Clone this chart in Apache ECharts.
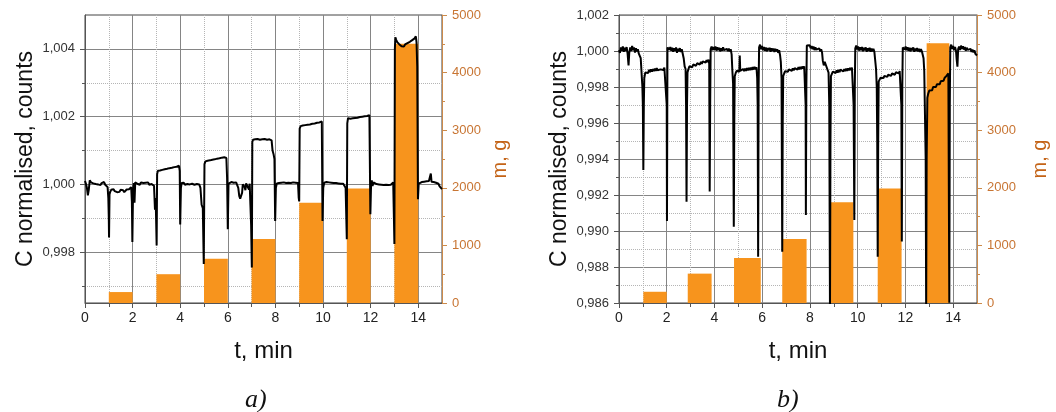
<!DOCTYPE html>
<html><head><meta charset="utf-8">
<script src="https://cdn.jsdelivr.net/npm/echarts@6/dist/echarts.min.js"></script>
<style>html,body{margin:0;padding:0;background:#fff}#c{width:1056px;height:412px}</style>
</head><body><div id="c"></div>
<script>
// ---------- data ----------
const xMajor = [0, 2, 4, 6, 8, 10, 12, 14];
const xMinor = [1, 3, 5, 7, 9, 11, 13];
const yMajorA = [0.998, 1.000, 1.002, 1.004];
const yMinorA = [0.997, 0.999, 1.001, 1.003];
const yMajorB = [0.986, 0.988, 0.990, 0.992, 0.994, 0.996, 0.998, 1.000, 1.002];
const yMinorB = [0.987, 0.989, 0.991, 0.993, 0.995, 0.997, 0.999, 1.001];

// bars: [t start, t end, mass g]
const barsA = [[1,2,190],[3,4,500],[5,6,770],[7,8,1110],[9,10,1740],[11,12,1990],[13,14,4500]];
const barsB = [[1.02,2.0,195],[2.88,3.88,510],[4.82,5.94,780],[6.84,7.86,1110],[8.88,9.82,1750],[10.84,11.84,1990],[12.89,13.84,4510]];

// normalised counts: [t min, C]
const lineA = [[0.00,1.00010],[0.04,1.00002],[0.08,0.99990],[0.12,0.99968],[0.16,0.99985],[0.20,1.00012],[0.25,1.00006],[0.30,1.00010],[0.35,1.00003],[0.40,1.00008],[0.45,1.00001],[0.50,1.00006],[0.55,1.00000],[0.60,1.00005],[0.65,0.99998],[0.70,1.00004],[0.75,1.00001],[0.80,1.00007],[0.85,0.99999],[0.90,1.00003],[0.95,0.99992],[0.98,0.99960],[1.00,0.99900],[1.01,0.99843],[1.03,0.99970],[1.06,0.99978],
[1.10,0.99984],[1.15,0.99979],[1.20,0.99986],[1.25,0.99980],[1.30,0.99983],[1.35,0.99977],[1.40,0.99982],[1.45,0.99978],[1.50,0.99984],[1.55,0.99979],[1.60,0.99983],[1.65,0.99977],[1.70,0.99982],[1.75,0.99985],[1.80,0.99980],[1.85,0.99986],[1.90,0.99988],[1.94,0.99992],[1.97,0.99950],[1.99,0.99830],[2.02,0.99985],[2.05,1.00004],[2.08,0.99946],[2.11,1.00006],
[2.15,1.00008],[2.20,1.00002],[2.25,1.00005],[2.30,0.99999],[2.35,1.00006],[2.40,1.00001],[2.45,1.00004],[2.50,1.00000],[2.55,1.00005],[2.60,1.00002],[2.65,1.00006],[2.70,0.99999],[2.75,1.00004],[2.80,1.00001],[2.85,1.00004],[2.90,0.99996],[2.94,0.99925],[2.97,0.99960],[3.01,0.99820],[3.03,1.00030],
[3.06,1.00040],[3.10,1.00044],[3.15,1.00041],[3.20,1.00046],[3.25,1.00043],[3.30,1.00047],[3.35,1.00045],[3.40,1.00049],[3.45,1.00046],[3.50,1.00050],[3.55,1.00048],[3.60,1.00052],[3.65,1.00049],[3.70,1.00053],[3.75,1.00051],[3.80,1.00055],[3.85,1.00052],[3.90,1.00057],[3.95,1.00055],[3.98,1.00040],[4.00,0.99882],[4.03,0.99990],[4.06,1.00004],
[4.10,1.00001],[4.15,1.00005],[4.20,0.99999],[4.25,1.00004],[4.30,1.00001],[4.35,1.00006],[4.40,1.00000],[4.45,1.00004],[4.50,1.00002],[4.55,1.00005],[4.60,0.99999],[4.65,1.00003],[4.70,1.00001],[4.75,1.00004],[4.80,1.00000],[4.85,0.99990],[4.90,0.99940],[4.95,0.99930],[4.99,0.99765],[5.02,1.00060],
[5.06,1.00068],[5.10,1.00072],[5.15,1.00070],[5.20,1.00074],[5.25,1.00071],[5.30,1.00076],[5.35,1.00073],[5.40,1.00077],[5.45,1.00074],[5.50,1.00078],[5.55,1.00076],[5.60,1.00080],[5.65,1.00077],[5.70,1.00082],[5.75,1.00079],[5.80,1.00083],[5.85,1.00080],[5.90,1.00084],[5.94,1.00078],[5.97,1.00020],[6.00,0.99868],[6.03,1.00002],
[6.06,1.00006],[6.10,1.00003],[6.15,1.00007],[6.20,1.00002],[6.25,1.00005],[6.30,1.00001],[6.35,1.00006],[6.40,1.00003],[6.44,0.99990],[6.48,0.99966],[6.52,0.99958],[6.56,0.99962],[6.60,0.99975],[6.63,1.00000],[6.67,1.00005],[6.71,0.99992],[6.74,0.99983],[6.77,1.00003],[6.81,1.00005],[6.85,1.00002],[6.89,0.99985],[6.92,1.00002],[6.95,0.99940],[6.98,0.99880],[7.01,0.99755],[7.03,1.00125],
[7.06,1.00132],[7.10,1.00136],[7.15,1.00133],[7.20,1.00137],[7.25,1.00134],[7.30,1.00136],[7.35,1.00132],[7.40,1.00135],[7.45,1.00133],[7.50,1.00137],[7.55,1.00134],[7.60,1.00136],[7.65,1.00132],[7.70,1.00135],[7.75,1.00133],[7.80,1.00134],[7.84,1.00130],[7.88,1.00100],[7.92,1.00090],[7.96,1.00075],[7.99,0.99892],[8.02,0.99990],
[8.06,1.00003],[8.10,0.99999],[8.15,1.00004],[8.20,1.00001],[8.25,1.00005],[8.30,1.00002],[8.35,1.00006],[8.40,1.00001],[8.45,1.00004],[8.50,1.00002],[8.55,1.00005],[8.60,1.00001],[8.65,1.00004],[8.70,1.00002],[8.75,1.00006],[8.80,1.00003],[8.85,1.00005],[8.90,1.00002],[8.95,1.00004],[8.98,0.99960],[9.00,0.99950],[9.02,1.00165],
[9.06,1.00172],[9.10,1.00176],[9.15,1.00174],[9.20,1.00177],[9.25,1.00175],[9.30,1.00178],[9.35,1.00176],[9.40,1.00180],[9.45,1.00177],[9.50,1.00181],[9.55,1.00179],[9.60,1.00182],[9.65,1.00180],[9.70,1.00184],[9.75,1.00182],[9.80,1.00185],[9.85,1.00183],[9.90,1.00187],[9.95,1.00186],[9.98,0.99892],[10.01,0.99990],
[10.05,1.00005],[10.10,1.00002],[10.15,1.00007],[10.20,1.00003],[10.25,1.00006],[10.30,1.00001],[10.35,1.00005],[10.40,1.00002],[10.45,1.00004],[10.50,1.00000],[10.55,1.00004],[10.60,1.00001],[10.65,1.00003],[10.70,0.99999],[10.75,1.00002],[10.80,0.99998],[10.85,1.00002],[10.90,0.99999],[10.95,0.99990],[11.00,0.99838],[11.02,1.00180],
[11.05,1.00195],[11.10,1.00198],[11.15,1.00194],[11.20,1.00197],[11.25,1.00195],[11.30,1.00199],[11.35,1.00196],[11.40,1.00200],[11.45,1.00197],[11.50,1.00201],[11.55,1.00199],[11.60,1.00202],[11.65,1.00200],[11.70,1.00203],[11.75,1.00201],[11.80,1.00204],[11.85,1.00202],[11.90,1.00205],[11.95,1.00204],[11.99,0.99912],[12.02,1.00000],
[12.05,1.00012],[12.08,0.99995],[12.12,1.00006],[12.16,1.00002],[12.20,1.00005],[12.25,1.00001],[12.30,1.00004],[12.35,1.00000],[12.40,1.00003],[12.45,0.99999],[12.50,1.00002],[12.55,0.99998],[12.60,1.00001],[12.65,0.99999],[12.70,1.00002],[12.75,0.99998],[12.80,1.00001],[12.85,0.99999],[12.90,1.00004],[12.95,1.00006],[12.98,0.99900],[13.00,0.99824],[13.02,1.00400],
[13.04,1.00434],[13.08,1.00426],[13.12,1.00420],[13.16,1.00418],[13.20,1.00414],[13.25,1.00412],[13.30,1.00408],[13.35,1.00411],[13.40,1.00407],[13.45,1.00413],[13.50,1.00411],[13.55,1.00417],[13.60,1.00415],[13.65,1.00421],[13.70,1.00420],[13.75,1.00426],[13.80,1.00425],[13.85,1.00431],[13.90,1.00437],[13.93,1.00420],[13.96,1.00348],[13.99,0.99956],[14.02,1.00002],
[14.06,1.00006],[14.10,1.00003],[14.15,1.00007],[14.20,1.00004],[14.25,1.00008],[14.30,1.00005],[14.35,1.00009],[14.40,1.00006],[14.45,1.00010],[14.50,1.00008],[14.53,1.00032],[14.56,1.00008],[14.60,1.00005],[14.65,1.00007],[14.70,1.00003],[14.75,1.00005],[14.80,1.00000],[14.85,1.00002],[14.90,0.99994],[14.95,0.99990],[15.00,0.99986]];

const lineB = [[0.00,1.00005],[0.04,0.99990],[0.08,1.00020],[0.12,1.00002],[0.16,1.00025],[0.20,0.99995],[0.24,1.00018],[0.28,1.00000],[0.32,1.00022],[0.36,0.99985],[0.40,0.99920],[0.43,0.99990],[0.47,1.00020],[0.51,1.00000],[0.55,1.00028],[0.59,1.00004],[0.63,1.00020],[0.67,0.99992],[0.71,1.00015],[0.75,0.99998],[0.79,1.00010],[0.83,0.99985],[0.87,0.99990],[0.91,0.99960],[0.95,0.99950],[0.98,0.99800],[1.00,0.99700],[1.02,0.99339],[1.04,0.99700],[1.06,0.99850],
[1.10,0.99880],[1.14,0.99870],[1.18,0.99890],[1.22,0.99878],[1.26,0.99895],[1.30,0.99882],[1.34,0.99898],[1.38,0.99885],[1.42,0.99900],[1.46,0.99888],[1.50,0.99902],[1.54,0.99890],[1.58,0.99905],[1.62,0.99893],[1.66,0.99900],[1.70,0.99885],[1.74,0.99898],[1.78,0.99888],[1.82,0.99904],[1.86,0.99895],[1.90,0.99908],[1.94,0.99897],[1.97,0.99910],[2.00,0.99700],[2.01,0.99055],[2.03,1.00020],
[2.07,1.00030],[2.11,1.00008],[2.15,1.00022],[2.19,1.00002],[2.23,1.00018],[2.27,0.99996],[2.31,1.00015],[2.35,1.00000],[2.39,1.00020],[2.43,0.99990],[2.47,1.00012],[2.51,0.99998],[2.55,1.00016],[2.59,0.99995],[2.63,1.00010],[2.67,0.99985],[2.71,0.99960],[2.75,0.99915],[2.79,0.99900],[2.81,0.99700],[2.83,0.99163],[2.85,0.99700],[2.87,0.99880],
[2.91,0.99900],[2.95,0.99915],[2.99,0.99905],[3.03,0.99922],[3.07,0.99910],[3.11,0.99925],[3.15,0.99915],[3.19,0.99930],[3.23,0.99918],[3.27,0.99932],[3.31,0.99922],[3.35,0.99936],[3.39,0.99925],[3.43,0.99940],[3.47,0.99928],[3.51,0.99942],[3.55,0.99932],[3.59,0.99946],[3.63,0.99935],[3.67,0.99950],[3.71,0.99938],[3.75,0.99952],[3.78,0.99930],[3.80,0.99219],[3.82,0.99700],[3.84,1.00010],
[3.88,1.00025],[3.92,1.00005],[3.96,1.00022],[4.00,1.00008],[4.04,1.00025],[4.08,1.00002],[4.12,1.00020],[4.16,1.00005],[4.20,1.00018],[4.24,0.99998],[4.28,1.00015],[4.32,1.00002],[4.36,1.00020],[4.40,1.00005],[4.44,1.00016],[4.48,0.99996],[4.52,1.00012],[4.56,1.00000],[4.60,1.00014],[4.64,0.99998],[4.68,1.00010],[4.72,0.99980],[4.75,0.99890],[4.78,0.99820],[4.81,0.99024],[4.83,0.99600],[4.85,0.99860],
[4.89,0.99878],[4.93,0.99890],[4.97,0.99880],[5.01,0.99895],[5.04,0.99885],[5.06,0.99975],[5.08,0.99890],[5.12,0.99898],[5.16,0.99886],[5.20,0.99900],[5.24,0.99888],[5.28,0.99902],[5.32,0.99890],[5.36,0.99905],[5.40,0.99892],[5.44,0.99906],[5.48,0.99894],[5.52,0.99908],[5.56,0.99895],[5.60,0.99910],[5.64,0.99897],[5.68,0.99912],[5.72,0.99898],[5.76,0.99910],[5.79,0.99850],[5.81,0.99700],[5.83,0.98857],[5.85,0.99800],[5.87,1.00020],
[5.91,1.00035],[5.95,1.00010],[5.99,1.00028],[6.03,1.00005],[6.07,1.00022],[6.11,1.00002],[6.15,1.00020],[6.19,0.99998],[6.23,1.00016],[6.27,1.00004],[6.31,1.00018],[6.35,0.99996],[6.39,1.00015],[6.43,1.00000],[6.47,1.00014],[6.51,0.99995],[6.55,1.00012],[6.59,0.99998],[6.63,1.00010],[6.67,0.99990],[6.71,1.00005],[6.75,0.99975],[6.78,0.99940],[6.81,0.99850],[6.84,0.98885],[6.86,0.99600],[6.88,0.99860],
[6.92,0.99875],[6.96,0.99888],[7.00,0.99880],[7.04,0.99895],[7.08,0.99885],[7.12,0.99898],[7.16,0.99888],[7.20,0.99902],[7.24,0.99890],[7.28,0.99904],[7.32,0.99892],[7.36,0.99905],[7.40,0.99894],[7.44,0.99908],[7.48,0.99896],[7.52,0.99910],[7.56,0.99898],[7.60,0.99912],[7.64,0.99900],[7.68,0.99914],[7.72,0.99902],[7.76,0.99915],[7.80,0.99905],[7.82,0.99700],[7.83,0.99089],[7.85,0.99800],[7.87,1.00030],
[7.91,1.00040],[7.95,1.00020],[7.99,1.00032],[8.03,1.00015],[8.07,1.00028],[8.11,1.00010],[8.15,1.00025],[8.19,1.00005],[8.23,1.00020],[8.27,1.00008],[8.31,1.00018],[8.35,1.00002],[8.39,1.00015],[8.43,0.99998],[8.47,1.00010],[8.51,0.99990],[8.54,0.99945],[8.58,0.99920],[8.62,0.99940],[8.66,0.99925],[8.70,0.99935],[8.74,0.99915],[8.78,0.99880],[8.81,0.99700],[8.84,0.98546],[8.86,0.99500],[8.88,0.99860],
[8.92,0.99870],[8.96,0.99885],[9.00,0.99875],[9.04,0.99890],[9.08,0.99878],[9.12,0.99892],[9.16,0.99880],[9.20,0.99895],[9.24,0.99883],[9.28,0.99896],[9.32,0.99885],[9.36,0.99898],[9.40,0.99886],[9.44,0.99900],[9.48,0.99888],[9.52,0.99902],[9.56,0.99890],[9.60,0.99904],[9.64,0.99892],[9.68,0.99906],[9.72,0.99894],[9.76,0.99908],[9.80,0.99900],[9.83,0.99700],[9.86,0.99061],[9.88,0.99800],[9.90,1.00015],
[9.94,1.00030],[9.98,1.00008],[10.02,1.00025],[10.06,1.00002],[10.10,1.00020],[10.14,1.00005],[10.18,1.00022],[10.22,0.99998],[10.26,1.00018],[10.30,1.00003],[10.34,1.00020],[10.38,0.99996],[10.42,1.00015],[10.46,1.00000],[10.50,1.00018],[10.54,0.99996],[10.58,1.00014],[10.62,0.99998],[10.66,1.00012],[10.70,0.99995],[10.74,0.99990],[10.77,0.99900],[10.80,0.99800],[10.82,0.99500],[10.84,0.98857],[10.86,0.99500],[10.88,0.99830],
[10.92,0.99840],[10.96,0.99852],[11.00,0.99845],[11.04,0.99858],[11.08,0.99850],[11.12,0.99862],[11.16,0.99853],[11.20,0.99866],[11.24,0.99856],[11.28,0.99868],[11.32,0.99860],[11.36,0.99872],[11.40,0.99862],[11.44,0.99875],[11.48,0.99865],[11.52,0.99878],[11.56,0.99868],[11.60,0.99882],[11.64,0.99872],[11.68,0.99885],[11.72,0.99876],[11.76,0.99888],[11.80,0.99880],[11.83,0.99700],[11.85,0.98941],[11.87,0.99800],[11.89,1.00020],
[11.93,1.00028],[11.97,1.00008],[12.01,1.00025],[12.05,1.00004],[12.09,1.00020],[12.13,1.00002],[12.17,1.00018],[12.21,0.99998],[12.25,1.00016],[12.29,1.00004],[12.33,1.00020],[12.37,0.99996],[12.41,1.00014],[12.45,1.00000],[12.49,1.00016],[12.53,0.99998],[12.57,1.00012],[12.61,0.99995],[12.65,1.00010],[12.69,0.99998],[12.73,1.00006],[12.76,0.99960],[12.79,0.99890],[12.82,0.99880],[12.85,0.99400],[12.87,0.98565],[12.89,0.99400],[12.92,0.99740],
[12.96,0.99765],[13.00,0.99780],[13.04,0.99772],[13.08,0.99790],[13.12,0.99782],[13.16,0.99800],[13.20,0.99795],[13.24,0.99808],[13.28,0.99800],[13.32,0.99815],[13.36,0.99808],[13.40,0.99822],[13.44,0.99815],[13.48,0.99832],[13.52,0.99825],[13.56,0.99840],[13.60,0.99835],[13.64,0.99850],[13.68,0.99845],[13.72,0.99862],[13.76,0.99858],[13.80,0.99875],[13.82,0.99885],[13.84,0.98602],[13.86,0.99700],[13.88,1.00020],
[13.92,1.00035],[13.96,1.00012],[14.00,1.00028],[14.04,1.00005],[14.08,1.00022],[14.12,1.00000],[14.15,0.99950],[14.18,0.99913],[14.21,1.00010],[14.25,1.00025],[14.29,1.00005],[14.33,1.00030],[14.37,1.00012],[14.41,1.00026],[14.45,1.00008],[14.49,1.00022],[14.53,1.00002],[14.57,1.00018],[14.61,1.00006],[14.65,1.00015],[14.69,0.99998],[14.73,1.00012],[14.77,0.99995],[14.81,1.00008],[14.85,0.99992],[14.89,1.00004],[14.93,0.99985],[14.97,0.99978],[15.00,0.99975]];

// ---------- styling ----------
const FONT = 'Liberation Sans';
const AX = '#555';
const MAJ = '#858585';
const MIN = '#b5b5b5';
const ORA = '#cc8a4a';
const ORA_TXT = '#c87533';
const ORA_NAME = '#c46418';
const BAR = '#f7941d';
const fmt3 = v => Number(v).toFixed(3).replace('.', ',');
const fmtInt = v => String(Math.round(v));

function xAxes(g) {
  return [
    { gridIndex: g, type: 'value', min: 0, max: 15,
      axisLine: { show: true, onZero: false, lineStyle: { color: AX } },
      axisTick: { show: true, customValues: xMajor, length: 5, lineStyle: { color: AX } },
      axisLabel: { customValues: xMajor, formatter: fmtInt, color: '#222', fontSize: 14, margin: 8, fontFamily: FONT },
      splitLine: { show: true, lineStyle: { color: MAJ, width: 1 } },
      name: 't, min', nameLocation: 'middle', nameGap: 36,
      nameTextStyle: { fontSize: 24, color: '#111', fontFamily: FONT } },
    { gridIndex: g, type: 'value', min: 0, max: 15, position: 'bottom',
      axisLine: { show: false },
      axisTick: { show: true, customValues: xMinor, length: 4, lineStyle: { color: AX } },
      axisLabel: { show: false },
      splitLine: { show: true, lineStyle: { color: MIN, type: 'dotted', width: 1 } } }
  ];
}
function yAxes(g, min, max, major, minor, gapL, gapR) {
  return [
    { gridIndex: g, type: 'value', min: min, max: max, position: 'left',
      axisLine: { show: true, onZero: false, lineStyle: { color: AX } },
      axisTick: { show: true, customValues: major, length: 5, lineStyle: { color: AX } },
      axisLabel: { customValues: major, formatter: fmt3, color: '#333', fontSize: 13, margin: 10, fontFamily: FONT },
      splitLine: { show: true, lineStyle: { color: MAJ, width: 1 } },
      name: 'C normalised, counts', nameLocation: 'middle', nameRotate: 90, nameGap: gapL,
      nameTextStyle: { fontSize: 23, color: '#111', fontFamily: FONT } },
    { gridIndex: g, type: 'value', min: min, max: max, position: 'left',
      axisLine: { show: false },
      axisTick: { show: true, customValues: minor, length: 3, lineStyle: { color: AX } },
      axisLabel: { show: false },
      splitLine: { show: true, lineStyle: { color: MIN, type: 'dotted', width: 1 } } },
    { gridIndex: g, type: 'value', min: 0, max: 5000, interval: 1000, position: 'right',
      axisLine: { show: true, onZero: false, lineStyle: { color: ORA } },
      axisTick: { show: true, length: 5, lineStyle: { color: ORA } },
      minorTick: { show: true, splitNumber: 2, length: 3, lineStyle: { color: ORA } },
      axisLabel: { formatter: fmtInt, color: ORA_TXT, fontSize: 13, margin: 10, fontFamily: FONT },
      splitLine: { show: false },
      name: 'm, g', nameLocation: 'middle', nameRotate: 90, nameGap: gapR,
      nameTextStyle: { fontSize: 20, color: ORA_NAME, fontFamily: FONT } }
  ];
}
function barsSeries(xi, yi, data) {
  return {
    type: 'custom', xAxisIndex: xi, yAxisIndex: yi, data: data,
    encode: { x: [0, 1], y: 2 },
    renderItem: function (params, api) {
      const p0 = api.coord([api.value(0), api.value(2)]);
      const p1 = api.coord([api.value(1), 0]);
      return { type: 'rect',
        shape: { x: p0[0], y: p0[1], width: p1[0] - p0[0], height: p1[1] - p0[1] },
        style: { fill: BAR } };
    },
    z: 2
  };
}
function lineSeries(xi, yi, data) {
  return { type: 'line', xAxisIndex: xi, yAxisIndex: yi, data: data,
    showSymbol: false, symbol: 'none', sampling: null,
    lineStyle: { color: '#000', width: 2 }, z: 3 };
}

const chart = echarts.init(document.getElementById('c'), null, { renderer: 'canvas' });
chart.setOption({
  animation: false,
  backgroundColor: '#fff',
  textStyle: { fontFamily: FONT },
  grid: [
    { left: 85, top: 15, width: 357, height: 288, show: true, borderColor: '#444', borderWidth: 1, backgroundColor: 'transparent' },
    { left: 619, top: 15, width: 358, height: 288, show: true, borderColor: '#444', borderWidth: 1, backgroundColor: 'transparent' }
  ],
  xAxis: xAxes(0).concat(xAxes(1)),
  yAxis: yAxes(0, 0.9965, 1.005, yMajorA, yMinorA, 48, 48)
    .concat(yAxes(1, 0.986, 1.002, yMajorB, yMinorB, 48, 53)),
  series: [
    barsSeries(0, 2, barsA),
    lineSeries(0, 0, lineA),
    barsSeries(2, 5, barsB),
    lineSeries(2, 3, lineB)
  ],
  graphic: [
    { type: 'text', left: 245, top: 387, style: { text: 'a)', font: 'italic 26px "Liberation Serif"', fill: '#111' } },
    { type: 'text', left: 777, top: 387, style: { text: 'b)', font: 'italic 26px "Liberation Serif"', fill: '#111' } }
  ]
});
</script>
</body></html>
